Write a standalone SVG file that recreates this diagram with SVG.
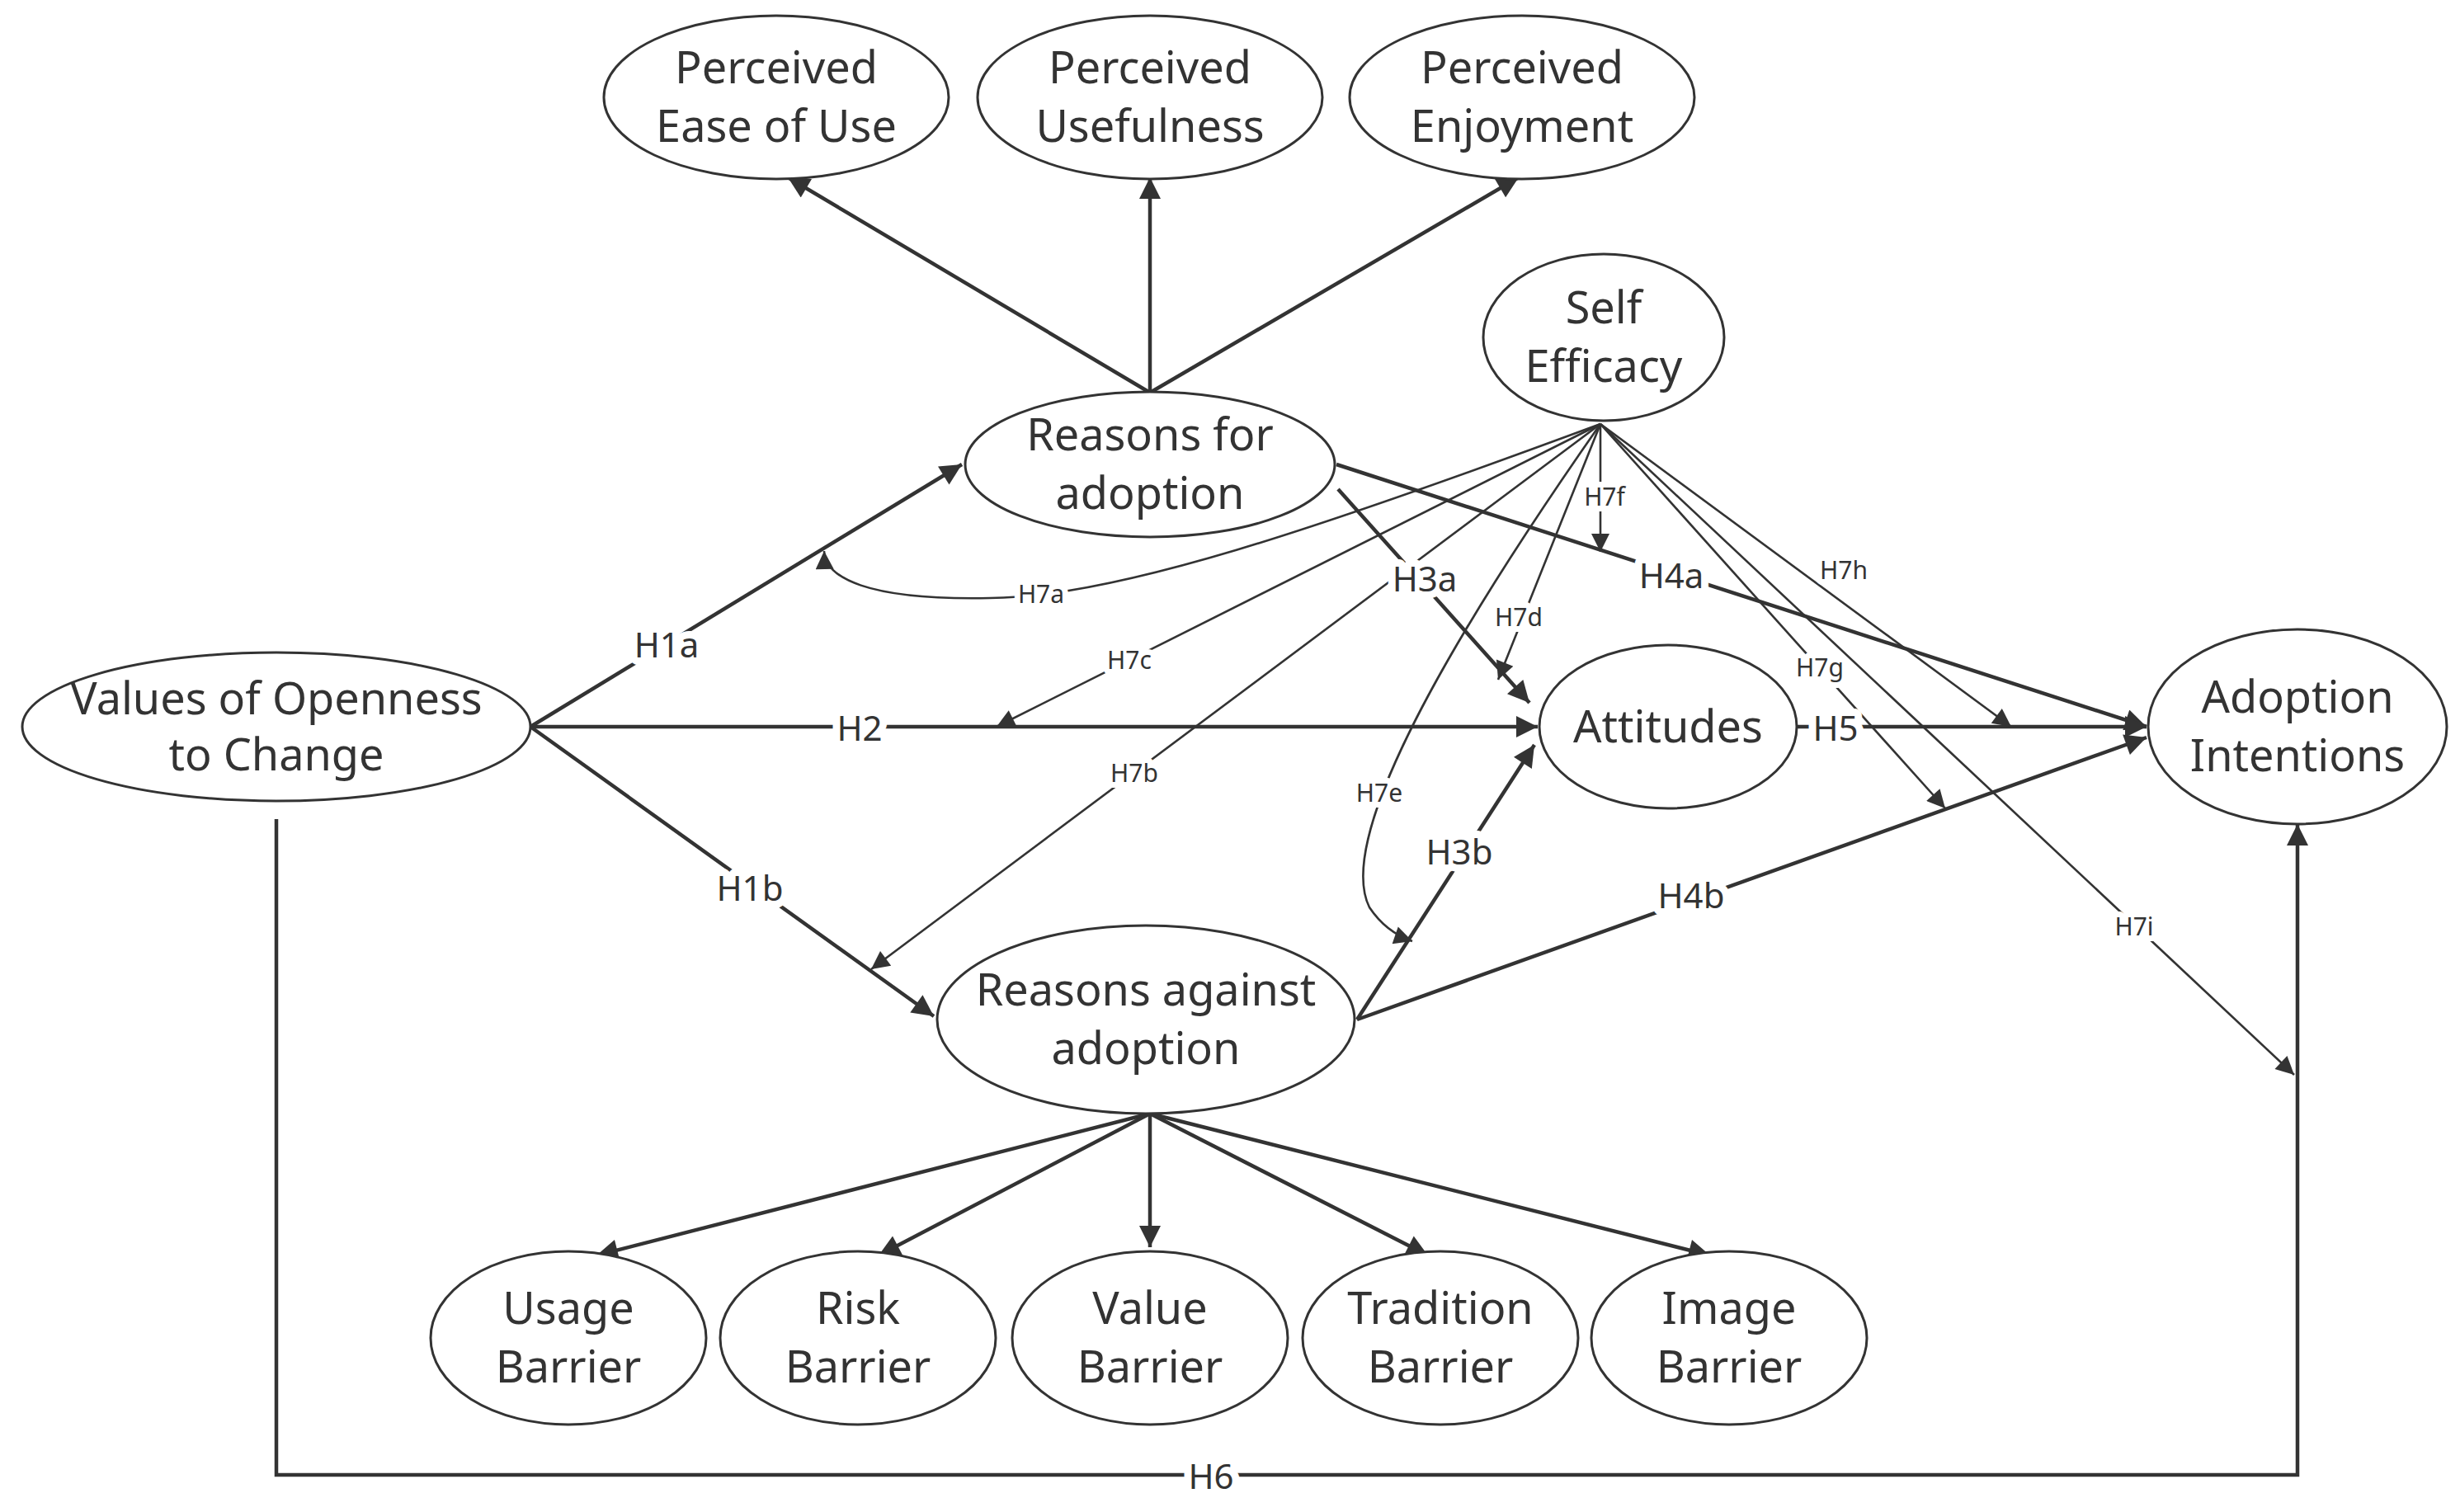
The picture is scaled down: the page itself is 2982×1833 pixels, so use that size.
<svg xmlns="http://www.w3.org/2000/svg" width="2982" height="1833" viewBox="0 0 2982 1833">
<style>
.n ellipse{fill:#fff;stroke:#333;stroke-width:3}
.n text{font-family:"Noto Sans","DejaVu Sans",sans-serif;font-size:54px;fill:#333;text-anchor:middle}
.e path,.e line{fill:none;stroke:#333;stroke-width:4.5}
.e .t{stroke-width:2.6}
.lb{font-family:"Noto Sans","DejaVu Sans",sans-serif;font-size:42px;fill:#333;text-anchor:middle;dominant-baseline:central;stroke:#fff;stroke-width:18;stroke-linejoin:round;paint-order:stroke}
.ls{font-size:30px;stroke-width:14}
</style>
<defs>
<marker id="a" viewBox="0 0 10 10" refX="10" refY="5" markerWidth="34" markerHeight="26" markerUnits="userSpaceOnUse" orient="auto"><path d="M0,0L10,5L0,10z" fill="#333"/></marker>
<marker id="b" viewBox="0 0 10 10" refX="10" refY="5" markerWidth="30" markerHeight="22" markerUnits="userSpaceOnUse" orient="auto"><path d="M0,0L10,5L0,10z" fill="#333"/></marker>
</defs>
<rect width="2982" height="1833" fill="#fff"/>
<g class="e">
<line x1="1394" y1="476" x2="955" y2="215" marker-end="url(#a)"/>
<line x1="1394" y1="476" x2="1394" y2="215" marker-end="url(#a)"/>
<line x1="1394" y1="476" x2="1841" y2="215" marker-end="url(#a)"/>
<line x1="643" y1="881" x2="1166" y2="563" marker-end="url(#a)"/>
<line x1="643" y1="881" x2="1864" y2="881" marker-end="url(#a)"/>
<line x1="643" y1="881" x2="1132" y2="1232" marker-end="url(#a)"/>
<line x1="1622" y1="593" x2="1854" y2="852" marker-end="url(#a)"/>
<line x1="1620" y1="563" x2="2602" y2="881" marker-end="url(#a)"/>
<line x1="1645" y1="1236" x2="1860" y2="903" marker-end="url(#a)"/>
<line x1="1645" y1="1236" x2="2602" y2="894" marker-end="url(#a)"/>
<line x1="2178" y1="881" x2="2602" y2="881" marker-end="url(#a)"/>
<path d="M335,993V1788H2785V999" marker-end="url(#a)"/>
<line x1="1394" y1="1350" x2="723" y2="1522" marker-end="url(#a)"/>
<line x1="1394" y1="1350" x2="1065" y2="1522" marker-end="url(#a)"/>
<line x1="1394" y1="1350" x2="1394" y2="1512" marker-end="url(#a)"/>
<line x1="1394" y1="1350" x2="1731" y2="1522" marker-end="url(#a)"/>
<line x1="1394" y1="1350" x2="2073" y2="1522" marker-end="url(#a)"/>
<path class="t" d="M1940,514C1600,640 1350,725 1200,725C1050,728 1000,700 999,668" marker-end="url(#b)"/>
<line class="t" x1="1940" y1="514" x2="1208" y2="881" marker-end="url(#b)"/>
<line class="t" x1="1940" y1="514" x2="1056" y2="1175" marker-end="url(#b)"/>
<line class="t" x1="1940" y1="514" x2="1816" y2="824" marker-end="url(#b)"/>
<path class="t" d="M1940,514C1740,800 1620,1020 1660,1100Q1680,1130 1712,1141" marker-end="url(#b)"/>
<line class="t" x1="1940" y1="514" x2="1940" y2="669" marker-end="url(#b)"/>
<line class="t" x1="1940" y1="514" x2="2358" y2="980" marker-end="url(#b)"/>
<line class="t" x1="1940" y1="514" x2="2438" y2="881" marker-end="url(#b)"/>
<line class="t" x1="1940" y1="514" x2="2781" y2="1303" marker-end="url(#b)"/>
<text class="lb" x="808" y="780">H1a</text>
<text class="lb" x="1042" y="881">H2</text>
<text class="lb" x="909" y="1075">H1b</text>
<text class="lb" x="1727" y="700">H3a</text>
<text class="lb" x="2026" y="696">H4a</text>
<text class="lb" x="1769" y="1031">H3b</text>
<text class="lb" x="2050" y="1084">H4b</text>
<text class="lb" x="2225" y="881">H5</text>
<text class="lb" x="1468" y="1788">H6</text>
<text class="lb ls" x="1262" y="719">H7a</text>
<text class="lb ls" x="1369" y="799">H7c</text>
<text class="lb ls" x="1375" y="936">H7b</text>
<text class="lb ls" x="1841" y="747">H7d</text>
<text class="lb ls" x="1672" y="960">H7e</text>
<text class="lb ls" x="1945" y="601">H7f</text>
<text class="lb ls" x="2206" y="808">H7g</text>
<text class="lb ls" x="2235" y="690">H7h</text>
<text class="lb ls" x="2587" y="1122">H7i</text>
</g>
<g id="peou" class="n"><ellipse cx="941" cy="118" rx="209" ry="99"/><text x="941" y="101">Perceived</text><text x="941" y="172">Ease of Use</text></g>
<g id="pu" class="n"><ellipse cx="1394" cy="118" rx="209" ry="99"/><text x="1394" y="101">Perceived</text><text x="1394" y="172">Usefulness</text></g>
<g id="penj" class="n"><ellipse cx="1845" cy="118" rx="209" ry="99"/><text x="1845" y="101">Perceived</text><text x="1845" y="172">Enjoyment</text></g>
<g id="se" class="n"><ellipse cx="1944" cy="409" rx="146" ry="101"/><text x="1944" y="392">Self</text><text x="1944" y="463">Efficacy</text></g>
<g id="rfa" class="n"><ellipse cx="1394" cy="563" rx="224" ry="88"/><text x="1394" y="546">Reasons for</text><text x="1394" y="617">adoption</text></g>
<g id="voc" class="n"><ellipse cx="335" cy="881" rx="308" ry="90"/><text x="335" y="866">Values of Openness</text><text x="335" y="934">to Change</text></g>
<g id="att" class="n"><ellipse cx="2022" cy="881" rx="156" ry="99"/><text x="2022" y="900">Attitudes</text></g>
<g id="ai" class="n"><ellipse cx="2785" cy="881" rx="181" ry="118"/><text x="2785" y="864">Adoption</text><text x="2785" y="935">Intentions</text></g>
<g id="raa" class="n"><ellipse cx="1389" cy="1236" rx="253" ry="114"/><text x="1389" y="1219">Reasons against</text><text x="1389" y="1290">adoption</text></g>
<g id="ub" class="n"><ellipse cx="689" cy="1622" rx="167" ry="105"/><text x="689" y="1605">Usage</text><text x="689" y="1676">Barrier</text></g>
<g id="rb" class="n"><ellipse cx="1040" cy="1622" rx="167" ry="105"/><text x="1040" y="1605">Risk</text><text x="1040" y="1676">Barrier</text></g>
<g id="vb" class="n"><ellipse cx="1394" cy="1622" rx="167" ry="105"/><text x="1394" y="1605">Value</text><text x="1394" y="1676">Barrier</text></g>
<g id="tb" class="n"><ellipse cx="1746" cy="1622" rx="167" ry="105"/><text x="1746" y="1605">Tradition</text><text x="1746" y="1676">Barrier</text></g>
<g id="ib" class="n"><ellipse cx="2096" cy="1622" rx="167" ry="105"/><text x="2096" y="1605">Image</text><text x="2096" y="1676">Barrier</text></g>
</svg>
